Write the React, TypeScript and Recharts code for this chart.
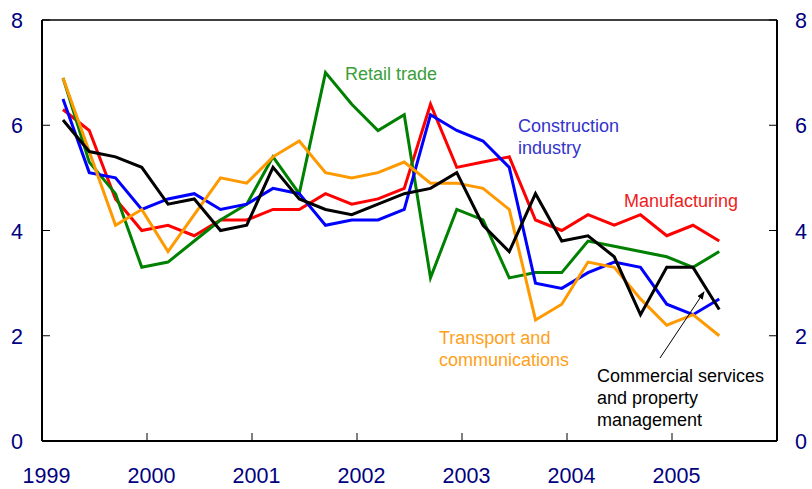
import { LineChart, Line, XAxis, YAxis, ReferenceLine } from "recharts";

// quarterly observations, 1999 Q1 – 2005 Q2
const quarters = [
  "1999 Q1", "1999 Q2", "1999 Q3", "1999 Q4",
  "2000 Q1", "2000 Q2", "2000 Q3", "2000 Q4",
  "2001 Q1", "2001 Q2", "2001 Q3", "2001 Q4",
  "2002 Q1", "2002 Q2", "2002 Q3", "2002 Q4",
  "2003 Q1", "2003 Q2", "2003 Q3", "2003 Q4",
  "2004 Q1", "2004 Q2", "2004 Q3", "2004 Q4",
  "2005 Q1", "2005 Q2",
];

const manufacturing = [6.3, 5.9, 4.6, 4.0, 4.1, 3.9, 4.2, 4.2, 4.4, 4.4, 4.7, 4.5, 4.6, 4.8, 6.4, 5.2, 5.3, 5.4, 4.2, 4.0, 4.3, 4.1, 4.3, 3.9, 4.1, 3.8];
const construction = [6.5, 5.1, 5.0, 4.4, 4.6, 4.7, 4.4, 4.5, 4.8, 4.7, 4.1, 4.2, 4.2, 4.4, 6.2, 5.9, 5.7, 5.2, 3.0, 2.9, 3.2, 3.4, 3.3, 2.6, 2.4, 2.7];
const retail = [6.9, 5.3, 4.7, 3.3, 3.4, 3.8, 4.2, 4.5, 5.4, 4.7, 7.0, 6.4, 5.9, 6.2, 3.1, 4.4, 4.2, 3.1, 3.2, 3.2, 3.8, 3.7, 3.6, 3.5, 3.3, 3.6];
const transport = [6.9, 5.5, 4.1, 4.4, 3.6, 4.3, 5.0, 4.9, 5.4, 5.7, 5.1, 5.0, 5.1, 5.3, 4.9, 4.9, 4.8, 4.4, 2.3, 2.6, 3.4, 3.3, 2.7, 2.2, 2.4, 2.0];
const commercial = [6.1, 5.5, 5.4, 5.2, 4.5, 4.6, 4.0, 4.1, 5.2, 4.6, 4.4, 4.3, 4.5, 4.7, 4.8, 5.1, 4.1, 3.6, 4.7, 3.8, 3.9, 3.5, 2.4, 3.3, 3.3, 2.5];

const yearTicks = [1999, 2000, 2001, 2002, 2003, 2004, 2005];
const valueTicks = [0, 2, 4, 6, 8];

// place each quarter on a continuous year axis
const quarterPos = (q: string) => {
  const [y, n] = q.split(" Q");
  return Number(y) + (Number(n) - 1) / 4 + 0.2;
};

const data = quarters.map((q, i) => ({
  t: quarterPos(q),
  manufacturing: manufacturing[i],
  construction: construction[i],
  retail: retail[i],
  transport: transport[i],
  commercial: commercial[i],
}));

const font = "'Liberation Sans', Arial, sans-serif";
const noteStyle = { fontSize: 18, fontFamily: font };
const axisLine = { stroke: "#000", strokeWidth: 2 };

// ticks point into the plot, labels sit outside
function YearTick({ x, y, payload }: any) {
  return (
    <g>
      <line x1={x} x2={x} y1={y} y2={y - 8} stroke="#000" strokeWidth={1} />
      <text x={x + 4.5} y={y + 42} textAnchor="middle" fontSize={21.5} fill="#000080" fontFamily={font}>
        {payload.value}
      </text>
    </g>
  );
}

function LeftTick({ x, y, payload }: any) {
  return (
    <g>
      <line x1={x} x2={x + 8} y1={y} y2={y} stroke="#000" strokeWidth={1} />
      <text x={x - 25} y={y + 8} textAnchor="middle" fontSize={21.5} fill="#000080" fontFamily={font}>
        {payload.value}
      </text>
    </g>
  );
}

function RightTick({ x, y, payload }: any) {
  return (
    <g>
      <line x1={x} x2={x - 8} y1={y} y2={y} stroke="#000" strokeWidth={1} />
      <text x={x + 24} y={y + 8} textAnchor="middle" fontSize={21.5} fill="#000080" fontFamily={font}>
        {payload.value}
      </text>
    </g>
  );
}

export default function App() {
  return (
    <div style={{ position: "absolute", left: 0, top: 0, width: 812, height: 489, background: "#fff" }}>
      <LineChart width={812} height={489} data={data} margin={{ top: 20, right: 0, bottom: 0, left: 0 }}>
        <XAxis
          dataKey="t"
          type="number"
          domain={[1999, 2006]}
          ticks={yearTicks}
          interval={0}
          height={48}
          tick={<YearTick />}
          tickSize={0}
          tickMargin={0}
          tickLine={false}
          axisLine={axisLine}
        />
        <YAxis
          yAxisId="left"
          domain={[0, 8]}
          ticks={valueTicks}
          interval={0}
          width={42}
          tick={<LeftTick />}
          tickSize={0}
          tickMargin={0}
          tickLine={false}
          axisLine={axisLine}
        />
        <YAxis
          yAxisId="right"
          orientation="right"
          domain={[0, 8]}
          ticks={valueTicks}
          interval={0}
          width={35}
          tick={<RightTick />}
          tickSize={0}
          tickMargin={0}
          tickLine={false}
          axisLine={axisLine}
        />
        <ReferenceLine yAxisId="left" y={8} stroke="#000" strokeWidth={1.5} />
        <Line yAxisId="left" dataKey="manufacturing" stroke="#ff0000" strokeWidth={3} dot={false} isAnimationActive={false} />
        <Line yAxisId="left" dataKey="retail" stroke="#008000" strokeWidth={3} dot={false} isAnimationActive={false} />
        <Line yAxisId="left" dataKey="construction" stroke="#0000ff" strokeWidth={3} dot={false} isAnimationActive={false} />
        <Line yAxisId="left" dataKey="transport" stroke="#ff9900" strokeWidth={3} dot={false} isAnimationActive={false} />
        <Line yAxisId="right" dataKey="commercial" stroke="#000000" strokeWidth={3} dot={false} isAnimationActive={false} />
      </LineChart>
      <svg width={812} height={489} style={{ position: "absolute", left: 0, top: 0, pointerEvents: "none" }}>
        <defs>
          <marker id="arrowHead" viewBox="0 0 10 10" refX="9" refY="5" markerWidth="8" markerHeight="8" orient="auto">
            <path d="M0,1 L10,5 L0,9 z" fill="#000" />
          </marker>
        </defs>
        <text x={345} y={80} fill="#3a9e3a" style={noteStyle}>Retail trade</text>
        <text x={518} fill="#3333cc" style={noteStyle}>
          <tspan x={518} y={132}>Construction</tspan>
          <tspan x={518} y={154}>industry</tspan>
        </text>
        <text x={624} y={207} fill="#ee1c1c" style={noteStyle}>Manufacturing</text>
        <text x={439} fill="#ff9f1a" style={noteStyle}>
          <tspan x={439} y={344}>Transport and</tspan>
          <tspan x={439} y={366}>communications</tspan>
        </text>
        <text x={597} fill="#000" style={noteStyle}>
          <tspan x={597} y={382}>Commercial services</tspan>
          <tspan x={597} y={404}>and property</tspan>
          <tspan x={597} y={426}>management</tspan>
        </text>
        <line x1={660} y1={358} x2={704} y2={292} stroke="#000" strokeWidth={1} markerEnd="url(#arrowHead)" />
      </svg>
    </div>
  );
}
